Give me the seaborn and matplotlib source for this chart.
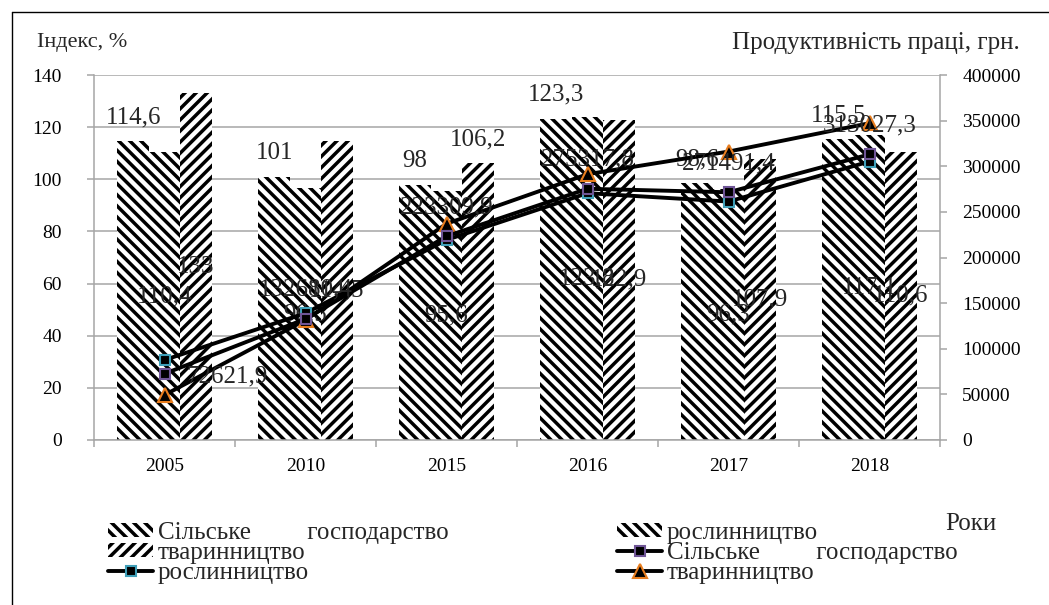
import numpy as np
import pandas as pd
import matplotlib
matplotlib.use("Agg")
import matplotlib.pyplot as plt
from matplotlib.lines import Line2D
from matplotlib.patches import Patch
from matplotlib.ticker import FuncFormatter
import seaborn as sns

years = ['2005', '2010', '2015', '2016', '2017', '2018']
sectors = ['Сільське господарство', 'рослинництво', 'тваринництво']

# індекси, %
idx_agri = [114.6, 101, 98, 123.3, 98.6, 115.5]
idx_crop = [110.4, 96.5, 95.6, 123.8, 96.3, 117.1]
idx_live = [133, 114.5, 106.2, 122.9, 107.9, 110.6]

# продуктивність праці, грн
prod_agri = [72621.9, 132680.4, 223309.9, 275317.8, 271491.4, 313027.3]
prod_crop = [87700, 139000, 219300, 270500, 261300, 305200]
prod_live = [49300, 131500, 237000, 291300, 316100, 347200]

sns.set_theme(style='white')
plt.rcParams['font.family'] = ['Liberation Serif', 'DejaVu Serif']
plt.rcParams['hatch.linewidth'] = 2.5
plt.rcParams['hatch.color'] = 'black'

FS = 14      # підписи осей
FL = 18      # підписи даних, легенда, заголовки
GRID = '#a6a6a6'
W, H = 1049, 605


def fmt(v):
    s = f'{v:.1f}'
    if s.endswith('.0'):
        s = s[:-2]
    return s.replace('.', ',')


df = pd.DataFrame({
    'Рік': years * 3,
    'Галузь': np.repeat(sectors, len(years)),
    'Індекс': idx_agri + idx_crop + idx_live,
})

fig = plt.figure(figsize=(W / 100, H / 100), dpi=100)
ax = fig.add_axes([94 / W, 1 - 440 / H, 846 / W, 365 / H])

sns.barplot(data=df, x='Рік', y='Індекс', hue='Галузь', hue_order=sectors,
            palette=['white'] * 3, saturation=1, width=0.667,
            edgecolor='black', linewidth=0, legend=False, ax=ax)
hatches = ['\\\\\\', '\\\\\\', '///']
for cont, h in zip(ax.containers, hatches):
    for bar in cont:
        bar.set_hatch(h)

ax.set_axisbelow(True)
ax.set_xlim(-0.5, 5.5)
ax.set_ylim(0, 140)
ax.set_yticks(np.arange(0, 141, 20))
ax.set_xlabel('')
ax.set_ylabel('')
ax.yaxis.grid(True, color=GRID, lw=1.1)
ax.set_xticks(np.arange(-0.5, 6, 1), minor=True)
ax.tick_params(axis='x', which='major', length=0, pad=13, labelsize=FS, colors='black')
ax.tick_params(axis='x', which='minor', bottom=True, length=5, width=1.1, color=GRID)
ax.tick_params(axis='y', left=True, length=5, width=1.1, color=GRID, pad=18,
               labelsize=FS, labelcolor='black')
for s in ['left', 'bottom']:
    ax.spines[s].set_color(GRID)
    ax.spines[s].set_linewidth(1.1)
ax.spines['top'].set_visible(False)
ax.spines['right'].set_visible(False)

# підписи стовпців
agri_bars, crop_bars, live_bars = ax.containers
for bar, v in zip(agri_bars, idx_agri):
    ax.annotate(fmt(v), (bar.get_x() + bar.get_width() / 2, v), xytext=(0, 17),
                textcoords='offset points', ha='center', va='center', fontsize=FL)
for bar, v in zip(crop_bars, idx_crop):
    ax.text(bar.get_x() + bar.get_width() / 2, v / 2, fmt(v),
            ha='center', va='center', fontsize=FL)
live_place = ['mid', 'mid', 'top', 'mid', 'mid', 'mid']
for bar, v, p in zip(live_bars, idx_live, live_place):
    xc = bar.get_x() + bar.get_width() / 2
    if p == 'top':
        ax.annotate(fmt(v), (xc, v), xytext=(0, 17), textcoords='offset points',
                    ha='center', va='center', fontsize=FL)
    else:
        ax.text(xc, v / 2, fmt(v), ha='center', va='center', fontsize=FL)

# лінії продуктивності
ax2 = ax.twinx()
x = np.arange(len(years))
line_specs = [
    (prod_live, '^', '#e87d1e', 10),
    (prod_crop, 's', '#3f9fb8', 7.5),
    (prod_agri, 's', '#6f5596', 7.5),
]
for vals, m, ec, ms in line_specs:
    sns.lineplot(x=x, y=vals, ax=ax2, color='black', lw=2.8, marker=m, ms=ms,
                 mfc='black', mec=ec, mew=1.5, zorder=3)

ax2.set_ylim(0, 400000)
ax2.set_yticks(np.arange(0, 400001, 50000))
ax2.yaxis.set_major_formatter(FuncFormatter(lambda v, p: f'{int(v)}'))
ax2.set_ylabel('')
ax2.grid(False)
ax2.tick_params(axis='y', right=True, length=5, width=1.1, color=GRID, pad=11,
                labelsize=FS, labelcolor='black')
ax2.spines['right'].set_color(GRID)
ax2.spines['right'].set_linewidth(1.1)
for s in ['left', 'top', 'bottom']:
    ax2.spines[s].set_visible(False)

for i, v in enumerate(prod_agri):
    if i == 0:
        ax2.annotate(fmt(v), (i, v), xytext=(16, -2), textcoords='offset points',
                     ha='left', va='center', fontsize=FL)
    else:
        ax2.annotate(fmt(v), (i, v), xytext=(0, 21), textcoords='offset points',
                     ha='center', va='center', fontsize=FL)

# заголовки осей
fig.text(37 / W, 1 - 43 / H, 'Індекс, %', ha='left', va='center', fontsize=16)
fig.text(1020 / W, 1 - 43 / H, 'Продуктивність праці, грн.', ha='right', va='center',
         fontsize=FL)
fig.text(945 / W, 1 - 524 / H, 'Роки', ha='left', va='center', fontsize=FL)

# легенда
bar_h = [Patch(facecolor='white', edgecolor='black', lw=0, hatch=h) for h in hatches]
line_h = {}
for (vals, m, ec, ms), name in zip(line_specs, ['live', 'crop', 'agri']):
    line_h[name] = Line2D([], [], color='black', lw=2.8, marker=m, ms=ms,
                          mfc='black', mec=ec, mew=1.5)

leg_kw = dict(loc='upper left', frameon=False, fontsize=FL, borderpad=0,
              borderaxespad=0, handlelength=1.8, handletextpad=0.2,
              handleheight=0.5, labelspacing=-0.08)
fig.legend([bar_h[0], bar_h[2], line_h['crop']],
           ['Сільське' + ' ' * 9 + 'господарство', 'тваринництво', 'рослинництво'],
           bbox_to_anchor=(108 / W, 1 - 522 / H), **leg_kw)
fig.legend([bar_h[1], line_h['agri'], line_h['live']],
           ['рослинництво', 'Сільське' + ' ' * 9 + 'господарство', 'тваринництво'],
           bbox_to_anchor=(617 / W, 1 - 522 / H), **leg_kw)

# рамка
fig.add_artist(Line2D([12 / W, 12 / W], [0, 1 - 12 / H], color='black', lw=1,
                      transform=fig.transFigure))
fig.add_artist(Line2D([12 / W, 1], [1 - 12 / H, 1 - 12 / H], color='black', lw=1,
                      transform=fig.transFigure))

fig.savefig('out.png', dpi=100)
